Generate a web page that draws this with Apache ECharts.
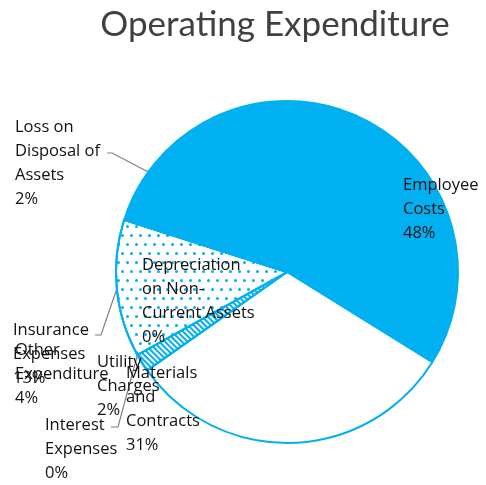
<!DOCTYPE html>
<html>
<head>
<meta charset="utf-8">
<script src="https://cdn.jsdelivr.net/npm/echarts@6/dist/echarts.min.js"></script>
<style>
html,body{margin:0;padding:0;background:#fff;}
#chart{width:486px;height:485px;}
</style>
</head>
<body>
<div id="chart"></div>
<script>
// Data (order clockwise, starting with Employee Costs)
const categories = ['Employee Costs', 'Materials and Contracts', 'Utility Charges', 'Interest Expenses',
  'Insurance Expenses', 'Depreciation on Non-Current Assets', 'Other Expenditure', 'Loss on Disposal of Assets'];
const values = [47.9, 31.4, 1.7, 0, 13.0, 0, 4.0, 2.0];
const labelTexts = ['Employee\nCosts', 'Materials\nand\nContracts', 'Utility\nCharges', 'Interest\nExpenses',
  'Insurance\nExpenses', 'Depreciation\non Non-\nCurrent Assets', 'Other\nExpenditure', 'Loss on\nDisposal of\nAssets'];

const BLUE = '#00B0F0';
const styles = [
  {color: BLUE},
  {color: '#ffffff'},
  {color: '#ffffff', decal: {symbol: 'rect', color: BLUE, dashArrayX: [[1, 0]], dashArrayY: [2, 2], rotation: Math.PI / 4, symbolSize: 1}},
  {color: '#ffffff'},
  {color: '#ffffff', decal: {symbol: 'circle', color: BLUE, dashArrayX: [[2.5, 5.5], [0, 4, 2.5, 1.5]], dashArrayY: [2.5, 5.5], symbolSize: 1}},
  {color: '#ffffff'},
  {color: BLUE},
  {color: BLUE}
];
// label top-left positions and leader-line bend offsets (relative to label)
const labelPos = [
  [403, 173], [126, 361], [97, 350], [45, 413], [13, 318], [142, 253], [15, 338], [15, 115]
];
const lineBend = [null, null, null, [[73, 14], [66, 14]], [[88, 17], [82, 17]], null, null, [[97, 38], [92, 38]]];

const chart = echarts.init(document.getElementById('chart'), null, {renderer: 'canvas'});
chart.setOption({
  animation: false,
  title: {
    text: 'Operating Expenditure',
    left: 270, top: 2, textAlign: 'center',
    textStyle: {fontFamily: 'Lato', fontSize: 35, fontWeight: 'normal', color: '#404040'}
  },
  series: [{
    type: 'pie',
    center: [287, 272],
    radius: 171,
    startAngle: 140.6,
    clockwise: true,
    percentPrecision: 0,
    avoidLabelOverlap: false,
    data: categories.map((name, i) => ({
      name: name,
      value: values[i],
      itemStyle: {color: styles[i].color, decal: styles[i].decal, borderColor: BLUE, borderWidth: 2},
      labelLine: {show: !!lineBend[i], lineStyle: {color: '#7f7f7f', width: 1.2}}
    })),
    label: {
      show: true,
      position: 'outside',
      overflow: 'none',
      formatter: p => labelTexts[p.dataIndex] + '\n' + p.percent + '%',
      fontFamily: 'Open Sans',
      fontSize: 16.5,
      lineHeight: 24,
      color: '#111',
      align: 'left'
    },
    labelLine: {length: 10, length2: 10},
    labelLayout: function (params) {
      const i = params.dataIndex;
      const p = labelPos[i];
      const res = {x: p[0], y: p[1], align: 'left', verticalAlign: 'top', width: 200};
      if (lineBend[i] && params.labelLinePoints) {
        const p0 = params.labelLinePoints[0];
        res.labelLinePoints = [p0,
          [p[0] + lineBend[i][0][0], p[1] + lineBend[i][0][1]],
          [p[0] + lineBend[i][1][0], p[1] + lineBend[i][1][1]]];
      }
      return res;
    },
    emphasis: {disabled: true}
  }]
});
</script>
</body>
</html>
